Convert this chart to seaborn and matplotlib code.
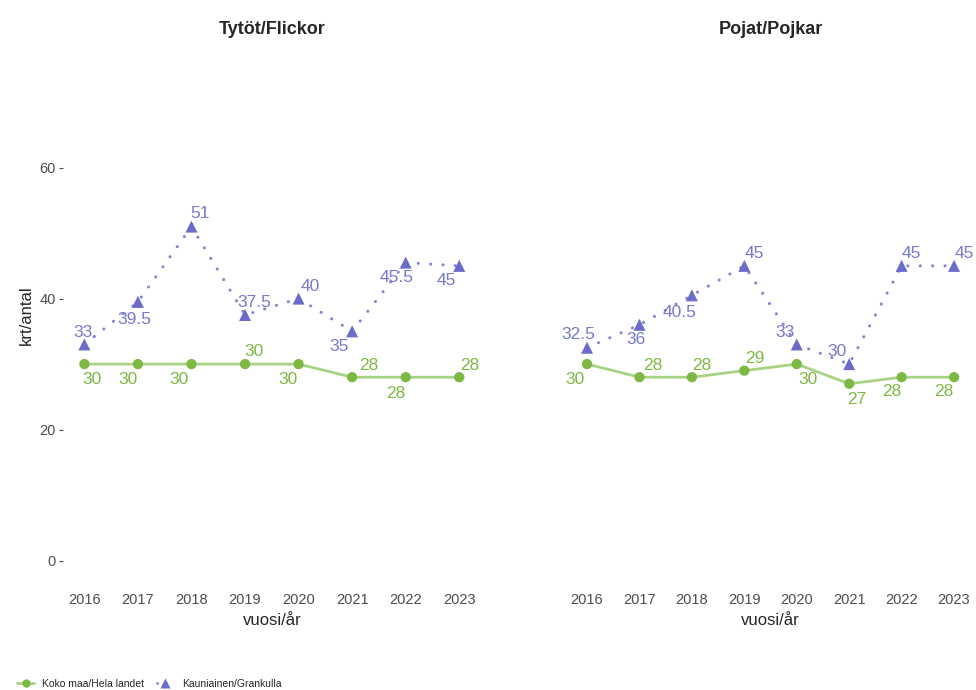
import numpy as np
import pandas as pd
import matplotlib
matplotlib.use("Agg")
import matplotlib.pyplot as plt
from matplotlib.lines import Line2D
import seaborn as sns

# data
years = [2016, 2017, 2018, 2019, 2020, 2021, 2022, 2023]
panels = ["Tytöt/Flickor", "Pojat/Pojkar"]
series = ["Koko maa/Hela landet", "Kauniainen/Grankulla"]

girls_country = [30, 30, 30, 30, 30, 28, 28, 28]
girls_kauniainen = [33, 39.5, 51, 37.5, 40, 35, 45.5, 45]
boys_country = [30, 28, 28, 29, 30, 27, 28, 28]
boys_kauniainen = [32.5, 36, 40.5, 45, 33, 30, 45, 45]

girls_country_lbl = ["30", "30", "30", "30", "30", "28", "28", "28"]
girls_kauniainen_lbl = ["33.", "39.5", "51", "37.5", "40", "35", "45.5", "45"]
boys_country_lbl = ["30", "28", "28", "29", "30", "27", "28", "28"]
boys_kauniainen_lbl = ["32.5", "36", "40.5", "45", "33", "30", "45", "45"]

# label offsets (pixels), mimicking the repelled labels
off_gc = [(8, -15), (-10, -15), (-12, -15), (9, 13), (-11, -15), (17, 12), (-10, -16), (10, 12)]
off_gk = [(1, 12), (-4, -18), (9, 13), (9, 12), (12, 12), (-13, -15), (-9, -15), (-13, -15)]
off_bc = [(-12, -15), (13, 12), (10, 12), (10, 12), (11, -15), (8, -16), (-10, -14), (-10, -14)]
off_bk = [(-9, 13), (-3, -15), (-12, -17), (10, 12), (-12, 12), (-12, 13), (10, 12), (10, 12)]

rows = []
for panel, c, k in [(panels[0], girls_country, girls_kauniainen),
                    (panels[1], boys_country, boys_kauniainen)]:
    for y, a, b in zip(years, c, k):
        rows.append((panel, series[0], y, a))
        rows.append((panel, series[1], y, b))
df = pd.DataFrame(rows, columns=["panel", "series", "year", "value"])

sns.set_theme(style="white")
plt.rcParams["font.family"] = ["Liberation Sans", "DejaVu Sans"]

green_pt = "#7db843"
green_ln = "#a8d284"
purple_pt = "#6b6bc9"
purple_ln = "#8585d3"
purple_txt = "#7878cc"
tick_col = "#4d4d4d"
dots = (0, (0.05, 4))

fig = plt.figure(figsize=(9.76, 6.9), dpi=100)
ax1 = fig.add_axes([0.0645, 0.152, 0.428, 0.783])
ax2 = fig.add_axes([0.580, 0.152, 0.419, 0.783], sharey=ax1)

labels = [(girls_country_lbl, girls_kauniainen_lbl, off_gc, off_gk),
          (boys_country_lbl, boys_kauniainen_lbl, off_bc, off_bk)]

for ax, panel, (lc, lk, oc, ok) in zip([ax1, ax2], panels, labels):
    d = df[df["panel"] == panel]
    dc = d[d["series"] == series[0]]
    dk = d[d["series"] == series[1]]
    sns.lineplot(data=dc, x="year", y="value", color=green_ln, lw=2, ax=ax, legend=False)
    sns.lineplot(data=dk, x="year", y="value", color=purple_ln, lw=2.2, ax=ax, legend=False,
                 linestyle=dots, dash_capstyle="round")
    sns.scatterplot(data=dc, x="year", y="value", color=green_pt, marker="o", s=55,
                    edgecolor="none", ax=ax, legend=False, zorder=3)
    sns.scatterplot(data=dk, x="year", y="value", color=purple_pt, marker="^", s=75,
                    edgecolor="none", ax=ax, legend=False, zorder=3)
    for x, v, t, o in zip(dc["year"], dc["value"], lc, oc):
        ax.annotate(t, (x, v), xytext=o, textcoords="offset pixels", ha="center",
                    va="center", color=green_pt, fontsize=12.5)
    for x, v, t, o in zip(dk["year"], dk["value"], lk, ok):
        ax.annotate(t, (x, v), xytext=o, textcoords="offset pixels", ha="center",
                    va="center", color=purple_txt, fontsize=12.5)

    ax.set_xlim(2015.6, 2023.4)
    ax.set_ylim(-3.75, 78.75)
    ax.set_xticks(years)
    ax.set_yticks([0, 20, 40, 60])
    ax.set_title(panel, fontsize=13, fontweight="bold", pad=8)
    ax.set_xlabel("vuosi/år", fontsize=12, labelpad=4)
    ax.tick_params(axis="both", labelsize=10.5, colors=tick_col, length=3, width=0.8,
                   direction="out", pad=2)
    ax.tick_params(axis="x", length=0, pad=6)
    for s in ax.spines.values():
        s.set_visible(False)

ax1.set_ylabel("krt/antal", fontsize=12)
ax1.tick_params(axis="y", left=True)
ax2.set_ylabel("")
ax2.tick_params(axis="y", left=False, labelleft=False)

handles = [
    Line2D([0], [0], color=green_ln, lw=2, marker="o", markersize=6,
           markerfacecolor=green_pt, markeredgecolor="none"),
    Line2D([0], [0], color=purple_ln, lw=2, linestyle=(0, (0.05, 3)), dash_capstyle="round",
           marker="^", markersize=7, markerfacecolor=purple_pt, markeredgecolor="none"),
]
fig.legend(handles, series, loc="lower left", bbox_to_anchor=(0.008, -0.012), ncol=2,
           frameon=False, fontsize=7.5, handlelength=1.6, columnspacing=1.2)

fig.savefig("out.png", dpi=100, facecolor="white")
